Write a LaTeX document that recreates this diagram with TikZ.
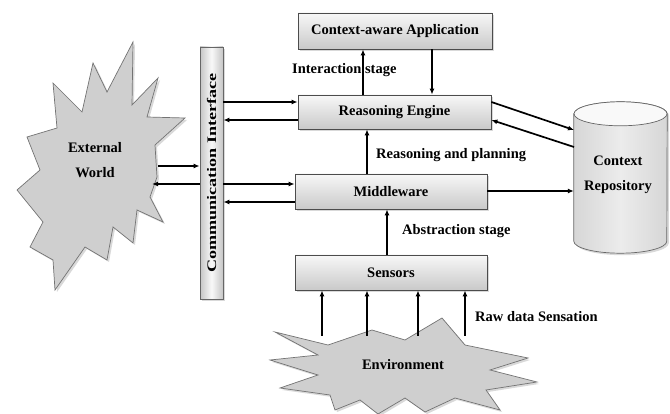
\documentclass[tikz,border=0pt]{standalone}
\usepackage{fontspec}
\setmainfont{Liberation Serif}
\usetikzlibrary{arrows.meta,shadows}

\tikzset{
  stagebox/.style={draw=black!70, line width=0.8pt, top color=gray!6, bottom color=gray!42,
    minimum width=193, minimum height=35, inner sep=0pt,
    drop shadow={opacity=0.3, shadow xshift=2pt, shadow yshift=-2pt}},
  commbar/.style={draw=black!60, line width=0.8pt, left color=gray!45, right color=gray!45,
    middle color=gray!5, minimum width=23, minimum height=252, inner sep=0pt,
    drop shadow={opacity=0.3, shadow xshift=2pt, shadow yshift=-2pt}},
  burst/.style={draw=black!55, line width=0.7pt, fill=gray!38, line join=miter,
    drop shadow={opacity=0.3, shadow xshift=2pt, shadow yshift=-2pt}},
  repobody/.style={draw=black!60, line width=0.7pt, left color=gray!32, right color=gray!32,
    middle color=gray!15, drop shadow={opacity=0.3, shadow xshift=2pt, shadow yshift=-2pt}},
  repotop/.style={draw=black!60, line width=0.7pt, fill=gray!5},
  arr/.style={line width=1.7pt, -{Latex[length=6pt,width=5pt]}},
  lbl/.style={anchor=west, inner sep=0pt},
  twoline/.style={align=center, font=\bfseries\fontsize{14.5}{25}\selectfont}
}

\begin{document}
\begin{tikzpicture}[x=1pt, y=-1pt, font=\bfseries\fontsize{14.5}{17}\selectfont]
\useasboundingbox (0,0) rectangle (670,414);

  % Stage boxes (manual placement)
  \node[stagebox, minimum width=194, minimum height=36] (app) at (395,31) {Context-aware Application};
  \node[stagebox, minimum height=34] (eng) at (394.5,112) {Reasoning Engine};
  \node[stagebox, minimum width=192] (mid) at (391,191.5) {Middleware};
  \node[stagebox, minimum width=192] (sen) at (391,272.5) {Sensors};

  % Communication interface
  \node[commbar] (comm) at (211.5,173) {};
  \node[rotate=90] (commtxt) at (comm.center) {\scalebox{1.25}[0.9]{Communication Interface}};

  % External world
  \draw[burst] (53,83) -- (82,112) -- (93,63) -- (107,92) -- (133,42) -- (132,105)
    -- (158,78) -- (147,117) -- (185,118) -- (155,145) -- (157,177) -- (150,197)
    -- (163,222) -- (137,210) -- (133,243) -- (113,227) -- (107,260) -- (85,247)
    -- (55,290) -- (53,260) -- (30,247) -- (43,222) -- (17,190) -- (40,170)
    -- (27,137) -- (57,128) -- cycle;
  \node[twoline] (world) at (95,160) {External\\World};

  % Environment
  \draw[burst] (275,332) -- (328,345) -- (372,330) -- (405,340) -- (442,318)
    -- (465,345) -- (528,358) -- (490,370) -- (537,382) -- (486,390) -- (500,410)
    -- (455,398) -- (425,412) -- (405,398) -- (378,414) -- (360,400) -- (335,410)
    -- (330,395) -- (280,388) -- (318,375) -- (270,360) -- (318,355) -- cycle;
  \node (env) at (403,365) {Environment};

  % Context repository
  \node[minimum width=93, minimum height=127, inner sep=0pt] (repo) at (620.5,177.5) {};
  \draw[repobody] (repo.north west) -- (repo.south west)
    arc[start angle=180, end angle=0, x radius=46.5, y radius=12] -- (repo.north east)
    arc[start angle=0, end angle=-180, x radius=46.5, y radius=12] -- cycle;
  \draw[repotop] (repo.north) ellipse[x radius=46.5, y radius=12];
  \node[twoline] (repotxt) at (618,175) {Context\\Repository};

  % Vertical flow
  \coordinate (xa) at (363,0);
  \coordinate (xb) at (432,0);
  \coordinate (xc) at (367,0);
  \coordinate (xd) at (387,0);
  \draw[arr] (xa |- eng.north) -- (xa |- app.south);
  \draw[arr] (xb |- app.south) -- (xb |- eng.north);
  \draw[arr] (xc |- mid.north) -- (xc |- eng.south);
  \draw[arr] (xd |- sen.north) -- (xd |- mid.south);
  \foreach \x in {322,367,418,465} {
    \coordinate (e\x) at (\x,336);
    \draw[arr] (e\x) -- (e\x |- sen.south);
  }

  % Horizontal flow
  \coordinate (ya) at (0,102);
  \coordinate (yb) at (0,120);
  \coordinate (yd) at (0,184);
  \coordinate (ye) at (0,202);
  \coordinate (ym) at (0,191);
  \coordinate (w1) at (158,166);
  \coordinate (w2) at (152,184);
  \coordinate (r1) at (574,130);
  \coordinate (r2) at (574,147);
  \draw[arr] (comm.east |- ya) -- (eng.west |- ya);
  \draw[arr] (eng.west |- yb) -- (comm.east |- yb);
  \draw[arr] (w1) -- (comm.west |- w1);
  \draw[arr] (comm.west |- w2) -- (w2);
  \draw[arr] (comm.east |- yd) -- (mid.west |- yd);
  \draw[arr] (mid.west |- ye) -- (comm.east |- ye);
  \draw[arr] (eng.east |- ya) -- (r1);
  \draw[arr] (r2) -- (eng.east |- yb);
  \draw[arr, line width=2pt] (mid.east |- ym) -- (repo.west |- ym);

  % Stage labels
  \node[lbl] (inter) at (292,70)  {Interaction stage};
  \node[lbl] (plan)  at (376,155) {Reasoning and planning};
  \node[lbl] (abst)  at (402,231) {Abstraction stage};
  \node[lbl] (raw)   at (475,317) {Raw data Sensation};
\end{tikzpicture}
\end{document}
